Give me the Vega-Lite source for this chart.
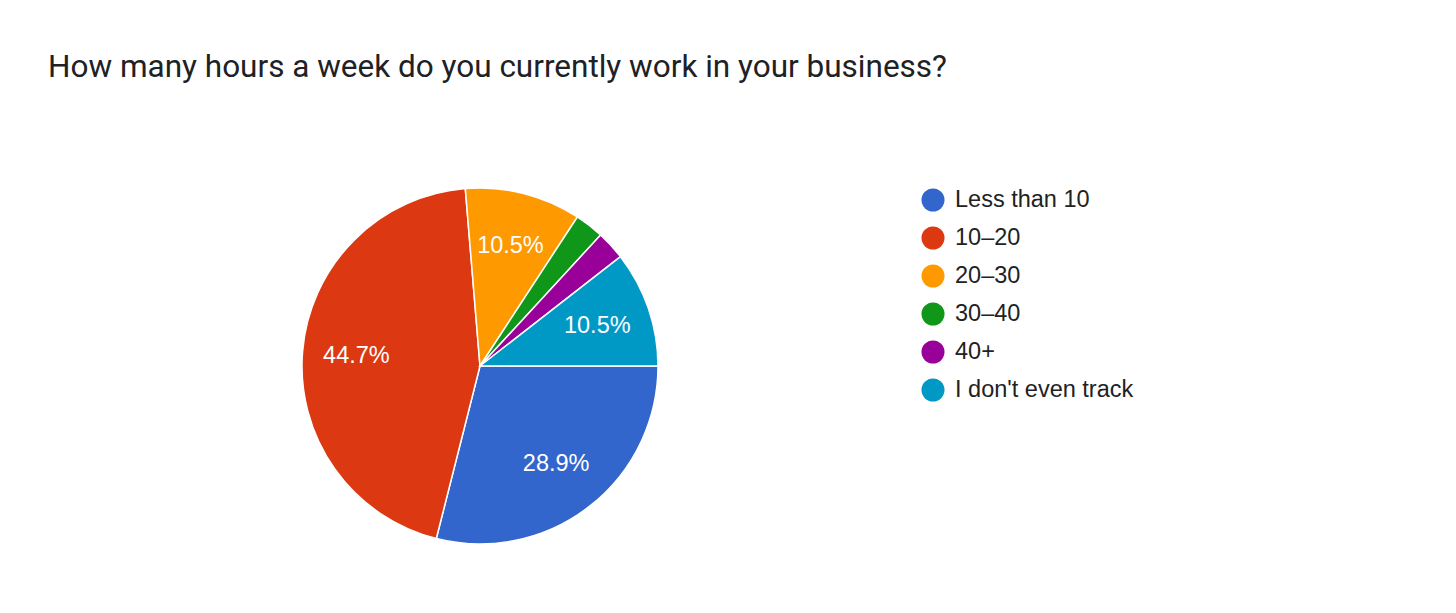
{
  "$schema": "https://vega.github.io/schema/vega-lite/v6.json",
  "autosize": "none",
  "width": 960,
  "height": 372,
  "padding": {"left": 0, "top": 180, "right": 496, "bottom": 61},
  "background": "white",
  "title": {
    "text": "How many hours a week do you currently work in your business?",
    "anchor": "start",
    "frame": "group",
    "dx": 48,
    "offset": 72,
    "baseline": "alphabetic",
    "font": "Roboto",
    "fontSize": 31.5,
    "fontWeight": "normal",
    "color": "#202124"
  },
  "data": {
    "values": [
      {"idx": 1, "answer": "Less than 10", "count": 11, "label": "28.9%"},
      {"idx": 2, "answer": "10–20", "count": 17, "label": "44.7%"},
      {"idx": 3, "answer": "20–30", "count": 4, "label": "10.5%"},
      {"idx": 4, "answer": "30–40", "count": 1, "label": ""},
      {"idx": 5, "answer": "40+", "count": 1, "label": ""},
      {"idx": 6, "answer": "I don't even track", "count": 4, "label": "10.5%"}
    ]
  },
  "encoding": {
    "theta": {"field": "count", "type": "quantitative", "stack": true, "scale": {"range": [1.5707963, 7.8539816]}},
    "order": {"field": "idx", "type": "quantitative"},
    "color": {
      "field": "answer",
      "type": "nominal",
      "sort": null,
      "scale": {
        "domain": ["Less than 10", "10–20", "20–30", "30–40", "40+", "I don't even track"],
        "range": ["#3366cc", "#dc3912", "#ff9900", "#109618", "#990099", "#0099c6"]
      },
      "legend": {
        "title": null,
        "orient": "none",
        "legendX": 921,
        "legendY": 8,
        "symbolType": "circle",
        "symbolSize": 530,
        "symbolStrokeWidth": 0,
        "labelFont": "Liberation Sans",
        "labelFontSize": 23.5,
        "labelColor": "#222222",
        "labelOffset": 10,
        "rowPadding": 14,
        "labelLimit": 400
      }
    }
  },
  "layer": [
    {
      "mark": {"type": "arc", "radius": 178, "stroke": "white", "strokeWidth": 1.5}
    },
    {
      "mark": {"type": "text", "radius": 124, "fill": "white", "font": "Liberation Sans", "fontSize": 23.5, "align": "center", "baseline": "middle"},
      "encoding": {
        "text": {"field": "label", "type": "nominal"},
        "color": {"value": "white"}
      }
    }
  ]
}
